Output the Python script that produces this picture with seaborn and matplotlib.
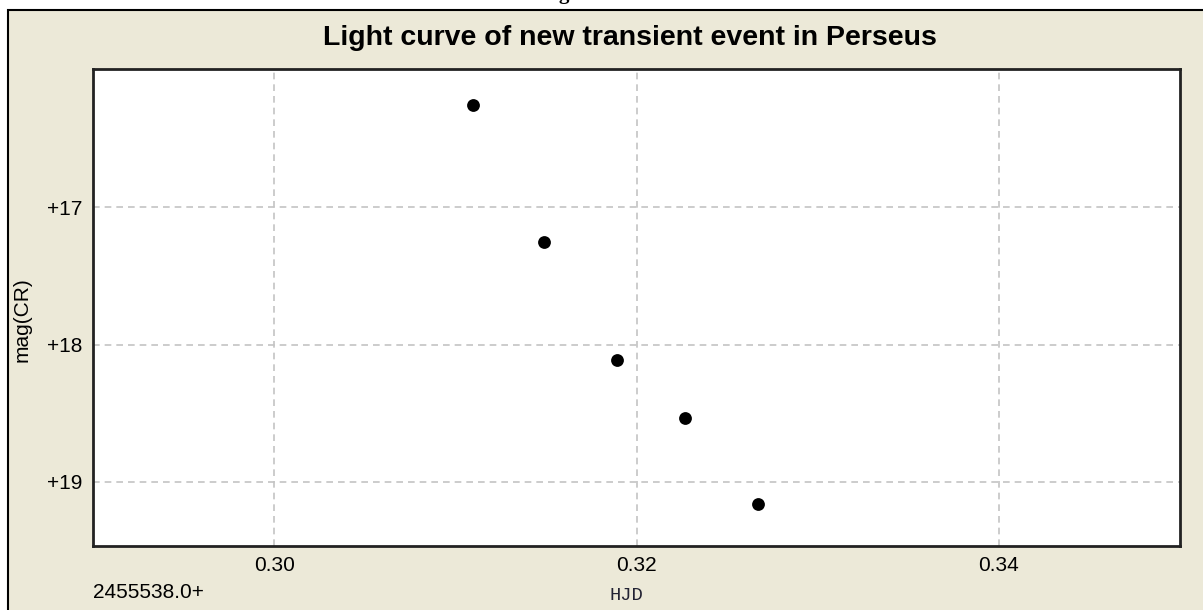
import matplotlib
matplotlib.use("Agg")
import matplotlib.pyplot as plt
import seaborn as sns
import pandas as pd
from matplotlib.patches import Rectangle
from matplotlib.ticker import FixedLocator, FixedFormatter

# ---- data ----
hjd = [0.3110, 0.3149, 0.3189, 0.3227, 0.3267]
mag = [16.255, 17.253, 18.115, 18.538, 19.166]
x_ticks = [0.30, 0.32, 0.34]
x_tick_labels = ["0.30", "0.32", "0.34"]
y_ticks = [17, 18, 19]
y_tick_labels = ["+17", "+18", "+19"]
title = "Light curve of new transient event in Perseus"
x_label = "HJD"
y_label = "mag(CR)"
x_offset_label = "2455538.0+"

df = pd.DataFrame({"hjd": hjd, "mag": mag})

sns.set_theme(style="white")
plt.rcParams["font.family"] = ["Liberation Sans", "DejaVu Sans"]

W, H = 1203, 610
fig = plt.figure(figsize=(W / 100, H / 100), dpi=100, facecolor="white")

bg = "#ECE9D8"
# outer panel frame
frame = Rectangle((8 / W, -0.01), 1.0, 1 - 10 / H + 0.01, transform=fig.transFigure,
                  facecolor=bg, edgecolor="black", linewidth=1.5, zorder=-10)
fig.patches.append(frame)

# cut-off caption fragment at the very top
fig.text(564 / W, 1 + 0.5 / H, "g", ha="center", va="baseline", fontsize=15,
         fontweight="bold", family=["Liberation Serif", "DejaVu Serif"], color="black")

left, right, top, bottom = 93, 1180, 69, 546
ax = fig.add_axes([left / W, 1 - bottom / H, (right - left) / W, (bottom - top) / H])
ax.set_zorder(5)
ax.set_facecolor("white")

sns.scatterplot(data=df, x="hjd", y="mag", color="black", s=85, linewidth=0,
                marker="o", ax=ax, zorder=3)

ax.set_xlim(0.29, 0.35)
ax.set_ylim(19.47, 15.99)

ax.xaxis.set_major_locator(FixedLocator(x_ticks))
ax.xaxis.set_major_formatter(FixedFormatter(x_tick_labels))
ax.yaxis.set_major_locator(FixedLocator(y_ticks))
ax.yaxis.set_major_formatter(FixedFormatter(y_tick_labels))

ax.grid(True, color="#C4C4C4", linestyle=(0, (4, 3)), linewidth=1.2)
ax.tick_params(axis="both", length=0, labelsize=15, colors="black")
ax.tick_params(axis="x", pad=7)
ax.tick_params(axis="y", pad=8)
ax.set_xlabel("")
ax.set_ylabel("")
for sp in ax.spines.values():
    sp.set_visible(True)
    sp.set_color("#222222")
    sp.set_linewidth(2)

fig.text(630 / W, 1 - 38 / H, title, ha="center", va="center",
         fontsize=20.5, fontweight="bold", color="black", zorder=6)
fig.text(22 / W, 1 - 320 / H, y_label, rotation=90, ha="center", va="center",
         fontsize=15, color="black", zorder=6)
fig.text(93 / W, 1 - 592 / H, x_offset_label, ha="left", va="center",
         fontsize=15, color="black", zorder=6)
fig.text(626 / W, 1 - 595 / H, x_label, ha="center", va="center",
         fontsize=13.5, color="#222233", family=["Liberation Mono", "DejaVu Sans Mono"],
         zorder=6)

fig.savefig("out.png", dpi=100, facecolor="white")
